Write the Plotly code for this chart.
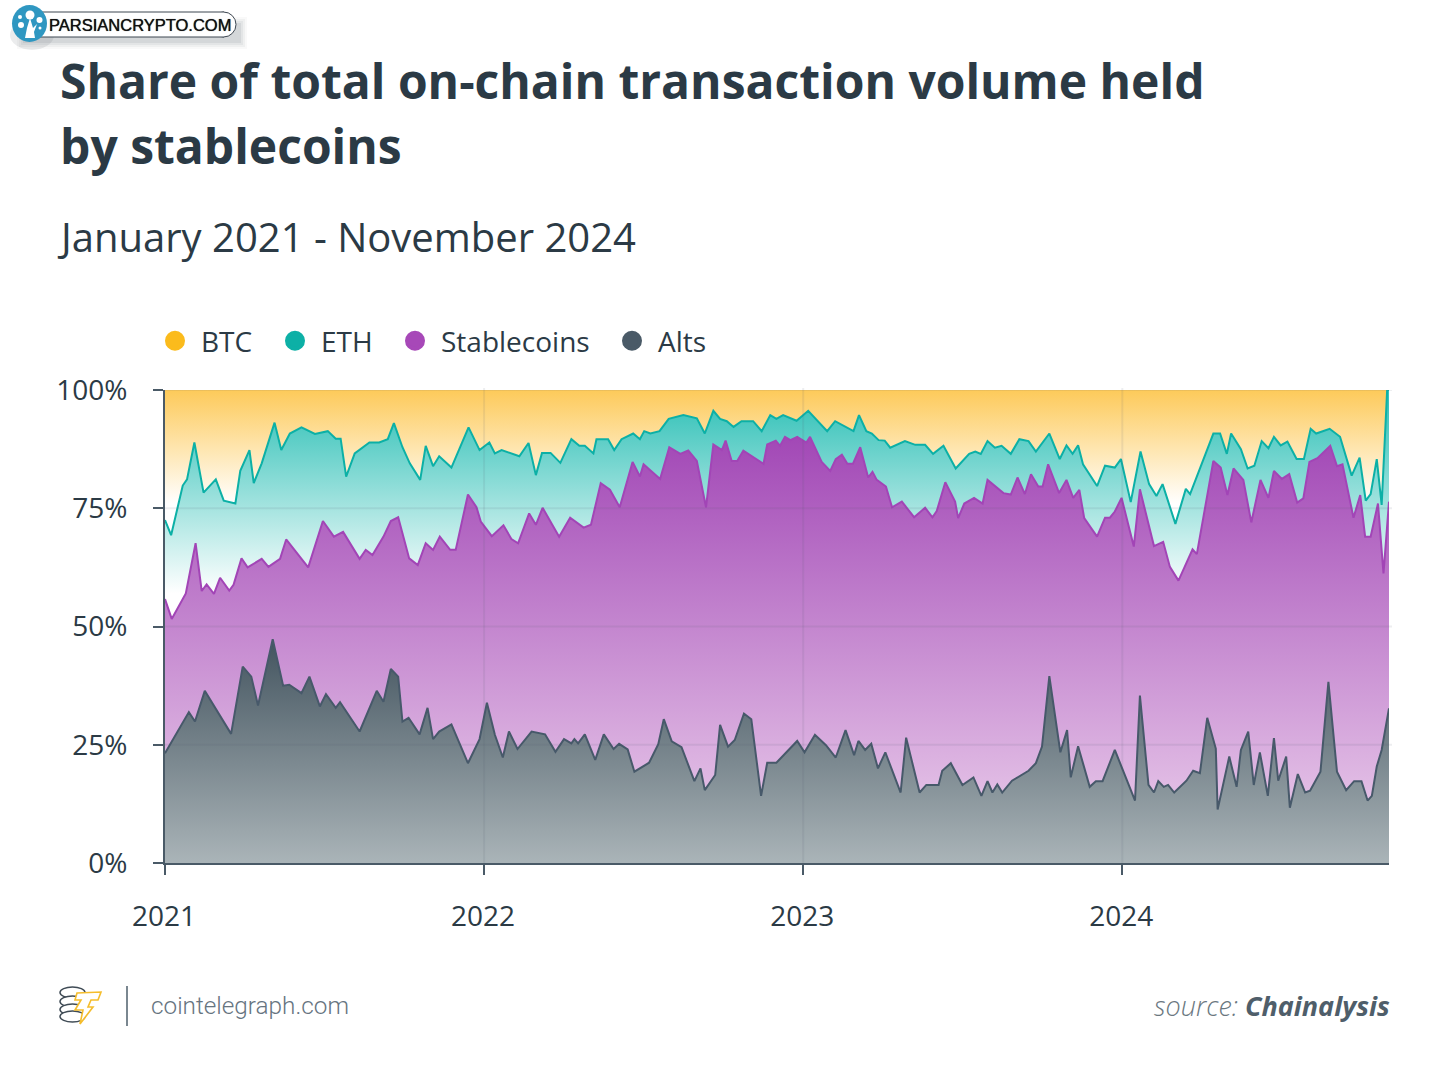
import pandas as pd
import plotly.graph_objects as go

W, H = 1450, 1086
START = pd.Timestamp("2021-01-01")
END = "2024-11-01"

year_ticks = ["2021-01-01", "2022-01-01", "2023-01-01", "2024-01-01"]
share_ticks = [0, 25, 50, 75, 100]
share_labels = ["0%", "25%", "50%", "75%", "100%"]

btc_weeks = [0, 200]
btc_values = [100, 100]

eth_weeks = [0, 1, 2.9, 3.6, 4.8, 6.3, 8.3, 9.6, 11.5, 12.3, 13.8, 14.5, 15.8, 17.9, 19.0, 20.4, 22.3, 24.5, 26.6, 27.9,
             28.7, 29.6, 31.0, 33.4, 35.0, 36.4, 37.4, 38.8, 40.0, 41.7, 42.6, 43.8, 44.8, 46.8, 49.6, 51.4, 53.0, 53.9,
             55.0, 57.9, 59.4, 60.6, 61.6, 63.0, 64.6, 66.4, 67.7, 68.6, 70.0, 70.5, 72.4, 73.4, 74.6, 76.5, 77.6, 78.3,
             79.3, 80.8, 82.3, 84.7, 86.9, 88.2, 89.6, 90.7, 91.8, 92.9, 94.2, 96.1, 97.5, 98.9, 99.9, 101.0, 103.2, 105.1,
             108.2, 109.5, 112.5, 113.4, 114.6, 115.5, 116.6, 117.6, 118.5, 120.9, 122.6, 124.2, 125.5, 127.2, 129.2,
             131.4, 132.4, 133.3, 134.4, 135.6, 136.7, 138.2, 139.6, 141.1, 142.3, 144.5, 146.2, 147.3, 148.3, 149.2,
             150.0, 152.3, 153.6, 155.2, 156.2, 157.8, 159.4, 160.8, 162.0, 163.0, 165.1, 166.8, 167.5, 171.3, 172.4,
             173.5, 174.2, 175.8, 176.9, 178.0, 179.2, 180.3, 181.2, 182.3, 183.4, 184.9, 186.1, 187.2, 188.1, 190.3,
             192.0, 193.9, 195.2, 196.2, 197.0, 198.0, 198.8, 199.7, 200]
eth_values = [72.5, 69.3, 79.8, 81.1, 88.9, 78.3, 81.1, 76.6, 76.0, 82.9, 87.3, 80.3, 84.5, 93.1, 87.3, 90.8, 92.1, 90.7, 91.3, 89.7,
              89.7, 81.7, 86.6, 88.9, 88.9, 89.6, 93.0, 87.9, 84.5, 81.0, 88.2, 83.9, 86.0, 83.6, 92.1, 87.3, 88.9, 86.6,
              87.3, 86.0, 88.8, 82.0, 86.7, 86.7, 84.6, 89.6, 88.2, 88.2, 86.6, 89.6, 89.6, 87.3, 89.6, 90.8, 89.6, 91.3,
              90.8, 91.3, 93.9, 94.7, 94.0, 90.8, 95.6, 93.9, 93.4, 92.2, 93.4, 93.4, 91.3, 94.7, 93.9, 94.7, 93.5, 95.6,
              91.3, 93.4, 91.3, 94.7, 91.3, 90.8, 89.4, 89.3, 87.8, 89.2, 88.4, 88.4, 86.5, 88.2, 83.4,
              86.5, 87.0, 86.5, 89.2, 87.8, 88.2, 86.5, 89.6, 89.2, 87.0, 90.8, 85.4, 88.3, 86.5, 88.3,
              84.3, 79.7, 84.0, 83.6, 85.4, 76.3, 87.0, 80.1, 77.6, 80.1, 71.7, 79.1, 78.0, 90.8, 90.8,
              86.5, 90.8, 87.5, 83.4, 84.0, 89.2, 87.7, 90.1, 88.3, 89.1, 85.4, 85.4, 91.8, 90.8, 91.8,
              90.1, 81.9, 85.7, 76.6, 78.0, 85.4, 75.7, 100, 100]

stable_weeks = [0, 1.1, 3.4, 5.0, 6.0, 6.8, 8.0, 9.0, 10.5, 11.2, 12.5, 13.5, 15.8, 16.9, 18.8, 19.8, 23.4, 25.8, 27.6, 29.1,
                31.8, 32.8, 33.9, 35.7, 36.9, 38.1, 39.9, 41.3, 42.6, 43.8, 44.9, 46.6, 47.5, 49.5, 50.9, 51.6, 53.4, 55.3,
                56.6, 57.7, 59.5, 60.6, 61.7, 64.4, 66.2, 68.4, 69.6, 71.2, 72.7, 74.3, 76.4, 77.6, 78.2, 80.9, 82.4, 84.2,
                85.5, 86.9, 88.4, 89.6, 91.0, 91.6, 92.6, 93.5, 94.5, 97.8, 98.4, 99.8, 100.5, 101.3, 102.2, 103.3, 104.8,
                105.4, 107.3, 108.7, 109.6, 110.6, 111.5, 112.4, 113.6, 114.9, 115.6, 116.3, 117.8, 118.8, 120.4, 122.4,
                124.2, 125.4, 126.1, 127.5, 129.1, 129.6, 130.6, 132.2, 133.6, 134.4, 137.0, 138.2, 139.3, 140.5, 141.5,
                142.7, 143.4, 144.3, 146.1, 147.3, 148.4, 149.4, 150.2, 152.3, 153.6, 154.4, 155.2, 156.3, 158.3, 159.3,
                161.6, 163.1, 164.2, 165.6, 167.9, 168.6, 171.3, 172.5, 173.6, 174.6, 176.2, 177.5, 179.0, 180.3, 181.2,
                182.5, 183.7, 185.0, 186.0, 187.0, 188.3, 190.4, 191.5, 192.4, 194.2, 195.3, 196.1, 197.0, 198.2, 199.1, 200]
stable_values = [55.8, 51.6, 57.0, 67.6, 57.5, 58.9, 56.9, 60.3, 57.6, 58.8, 64.4, 62.5, 64.3, 62.6, 64.3, 68.4, 62.5, 72.3, 69.0, 70.0,
                 64.3, 66.2, 65.1, 69.0, 72.3, 73.1, 64.4, 63.0, 67.6, 66.2, 69.0, 66.2, 66.2, 77.9, 75.2, 72.2, 69.1, 71.4,
                 68.5, 67.6, 73.9, 71.5, 75.1, 69.0, 73.0, 70.9, 71.5, 80.3, 78.9, 75.2, 84.8, 81.7, 84.3, 81.2, 87.9, 86.5,
                 87.2, 85.0, 75.2, 88.5, 87.3, 89.3, 85.0, 85.0, 87.2, 84.4, 88.5, 89.3, 88.2, 90.1, 89.4, 90.1, 88.9,
                 90.1, 84.8, 82.9, 85.4, 86.3, 84.4, 84.4, 87.9, 81.5, 82.7, 81.0, 79.6, 75.2, 76.4, 73.1,
                 75.1, 73.1, 74.4, 80.5, 76.4, 72.9, 76.0, 77.2, 76.0, 81.0, 78.2, 77.9, 81.5, 78.0, 82.2,
                 79.6, 79.6, 84.3, 78.2, 81.0, 77.2, 78.9, 72.9, 69.0, 73.0, 73.0, 74.3, 77.2, 66.9, 79.0,
                 67.0, 67.9, 62.6, 59.7, 66.3, 65.3, 85.0, 83.6, 77.8, 83.4, 81.0, 72.0, 81.0, 77.2, 82.9,
                 81.2, 82.2, 76.2, 77.1, 84.8, 85.6, 88.2, 83.9, 84.3, 73.0, 77.8, 69.0, 69.0, 76.0, 61.2, 76.4]

alts_weeks = [0, 3.9, 4.9, 6.5, 10.8, 12.7, 14.1, 15.2, 17.6, 19.3, 20.3, 22.3, 23.6, 25.3, 26.3, 27.9, 28.6, 31.8, 34.6, 35.7,
              36.9, 38.1, 38.8, 39.8, 41.6, 42.9, 43.8, 44.8, 46.8, 49.5, 51.4, 52.6, 53.9, 55.2, 56.2, 57.6, 59.9, 62.1,
              63.8, 65.2, 66.4, 66.9, 67.5, 68.6, 70.3, 71.7, 73.3, 74.2, 75.6, 76.7, 79.1, 80.6, 81.5, 82.8, 84.4, 86.5,
              87.5, 88.2, 89.9, 90.7, 92.0, 93.1, 94.6, 95.8, 97.4, 98.4, 99.9, 103.3, 104.5, 106.2, 108.0, 109.6, 111.2,
              112.6, 113.3, 114.4, 115.4, 116.5, 117.7, 120.2, 121.1, 123.3, 124.4, 126.4, 127.0, 128.4, 130.3, 132.1,
              133.4, 134.4, 135.2, 136.0, 136.8, 138.4, 141.1, 142.3, 143.3, 144.5, 146.3, 147.4, 148.0, 149.2, 151.1,
              152.1, 153.2, 155.2, 158.5, 159.3, 160.7, 161.6, 162.3, 163.2, 163.9, 164.9, 166.9, 168.0, 169.1, 170.3,
              171.7, 172.0, 173.9, 175.1, 175.8, 177.0, 177.9, 178.9, 180.2, 181.2, 181.9, 183.2, 183.8, 185.1, 186.3,
              187.1, 188.8, 190.1, 191.5, 193.0, 194.3, 195.5, 196.5, 197.2, 198.0, 198.8, 200]
alts_values = [23.2, 31.9, 29.9, 36.4, 27.3, 41.5, 39.4, 33.3, 47.3, 37.5, 37.7, 35.9, 39.4, 33.1, 35.7, 32.8, 34.0, 27.8, 36.4, 34.1,
               41.0, 39.4, 29.9, 30.7, 27.2, 32.8, 26.2, 27.8, 29.3, 21.1, 26.2, 33.9, 27.1, 22.3, 27.8, 24.1, 27.8, 27.2,
               23.5, 26.2, 25.3, 26.2, 25.3, 27.2, 21.8, 27.2, 24.1, 25.2, 24.0, 19.3, 21.2, 25.1, 30.4, 25.7, 24.5, 17.3,
               20.0, 15.4, 18.6, 29.2, 24.6, 26.0, 31.6, 30.4, 14.2, 21.2, 21.2, 25.8, 23.4, 27.1, 24.9, 22.3, 28.1,
               22.8, 25.8, 23.9, 25.2, 20.0, 23.4, 14.9, 26.5, 14.9, 16.5, 16.5, 19.5, 21.1, 16.5, 18.1,
               14.2, 17.3, 14.9, 16.6, 14.9, 17.4, 19.5, 21.1, 24.6, 39.5, 23.4, 28.1, 18.1, 24.7, 16.1,
               17.3, 17.3, 23.9, 13.2, 35.4, 16.5, 14.9, 17.3, 16.1, 16.5, 14.9, 17.4, 19.5, 19.0, 30.7,
               24.2, 11.3, 22.5, 16.1, 23.9, 27.8, 16.5, 23.4, 14.2, 26.4, 17.4, 22.5, 11.7, 18.8, 14.9,
               15.3, 19.3, 38.3, 19.3, 15.4, 17.3, 17.3, 13.2, 14.2, 20.4, 23.9, 32.7]

INK = "#2b3a45"
GREY = "#4a5a67"
FONT = "Open Sans"


def dates(weeks):
    return [START + pd.Timedelta(days=7 * w) for w in weeks]


def px(x):
    return x / W


def py(y):
    return 1 - y / H


def area(name, weeks, values, line, width, low, high, c_low, c_high):
    return go.Scatter(
        x=dates(weeks), y=values, name=name, mode="lines", showlegend=False,
        line=dict(color=line, width=width),
        fill="tozeroy",
        fillgradient=dict(type="vertical", start=low, stop=high,
                          colorscale=[[0, c_low], [1, c_high]]),
        hoverinfo="skip",
    )


fig = go.Figure()
fig.add_trace(area("BTC", btc_weeks, btc_values, "#fbbb1c", 0, 76, 100, "#ffffff", "#fdca5a"))
fig.add_trace(area("ETH", eth_weeks, eth_values, "#0cb0a6", 2, 57, 97, "#ffffff", "#38c3ba"))
fig.add_trace(area("Stablecoins", stable_weeks, stable_values, "#a245b6", 2, 0, 90, "#eed4ee", "#a248b6"))
fig.add_trace(area("Alts", alts_weeks, alts_values, "#47596a", 2, 0, 48, "#aab4b8", "#42535e"))

# legend
legend_items = [("BTC", "#fbbb1c", 149), ("ETH", "#0db0a6", 269), ("Stablecoins", "#a748b8", 389), ("Alts", "#4a5a67", 606)]
legend_layout = {}
for i, (name, color, left) in enumerate(legend_items, start=1):
    key = "legend" if i == 1 else f"legend{i}"
    fig.add_trace(go.Scatter(x=[None], y=[None], name=name, mode="markers", legend=key, showlegend=True,
                             marker=dict(color=color, size=16, line=dict(color=color, width=4))))
    legend_layout[key] = dict(x=px(left), y=py(341), xref="container", yref="container", xanchor="left", yanchor="middle",
                              orientation="h", bgcolor="rgba(0,0,0,0)", font=dict(family=FONT, size=28, color=INK),
                              itemwidth=42, itemclick=False, itemdoubleclick=False)

shapes = []
# grid drawn over the fills
for v in share_ticks[1:]:
    shapes.append(dict(type="line", xref="paper", yref="y", x0=px(165), x1=px(1392), y0=v, y1=v, layer="above",
                       line=dict(color="rgba(74,90,103,0.10)", width=2)))
for d in year_ticks[1:]:
    shapes.append(dict(type="line", xref="x", yref="paper", x0=d, x1=d, y0=py(863), y1=py(388), layer="above",
                       line=dict(color="rgba(74,90,103,0.10)", width=2)))


def poly(points, **kw):
    path = "M " + " L ".join(f"{px(x):.5f},{py(y):.5f}" for x, y in points) + " Z"
    shapes.append(dict(type="path", xref="paper", yref="paper", path=path, layer="above", **kw))


def rect(x0, y0, x1, y1, **kw):
    shapes.append(dict(type="rect", xref="paper", yref="paper", x0=px(x0), x1=px(x1), y0=py(y1), y1=py(y0),
                       layer="above", **kw))


def oval(x0, y0, x1, y1, **kw):
    shapes.append(dict(type="circle", xref="paper", yref="paper", x0=px(x0), x1=px(x1), y0=py(y1), y1=py(y0),
                       layer="above", **kw))


no_line = dict(width=0)
# watermark pill
for g, a in ((7, 0.04), (5, 0.06), (3, 0.08), (1, 0.10)):
    rect(24 - g, 24 - g, 240 + g, 42 + g, fillcolor=f"rgba(90,100,110,{a})", line=no_line)
oval(10, 20, 54, 50, fillcolor="rgba(90,100,110,0.12)", line=no_line)
pill_edge = dict(color="#3d4650", width=1)
oval(211, 12, 236, 37, fillcolor="#ffffff", line=pill_edge)
rect(40, 12, 224, 37, fillcolor="#ffffff", line=no_line)
for edge in (12, 37):
    shapes.append(dict(type="line", xref="paper", yref="paper", x0=px(40), x1=px(224), y0=py(edge), y1=py(edge),
                       layer="above", line=pill_edge))
oval(12, 5, 47, 42, fillcolor="#2f97c1", line=no_line)
for cx, cy, r in ((30, 15, 4.5), (39.5, 20, 3), (21, 25, 3), (20, 17, 2), (40, 28, 1.5)):
    oval(cx - r, cy - r, cx + r, cy + r, fillcolor="#ffffff", line=no_line)
poly([(25, 38), (27, 28), (30, 18), (33, 28), (37, 24), (34, 32), (35, 38)], fillcolor="#ffffff", line=no_line)

# cointelegraph mark
for top in (987, 996, 1004, 1011):
    oval(60, top, 85, top + 11, fillcolor="#ffffff", line=dict(color="#3f4b55", width=1.5))
poly([(77, 993), (101, 992), (98, 1000), (91, 1000), (88, 1007), (93, 1007), (80, 1024), (83, 1010), (75, 1010), (81, 1000), (75, 1000)],
     fillcolor="#ffffff", line=dict(color="#f5bd2c", width=1.6))
shapes.append(dict(type="line", xref="paper", yref="paper", x0=px(127), x1=px(127), y0=py(986), y1=py(1026), layer="above",
                   line=dict(color="#7a8790", width=2)))

annotations = [
    dict(text="<b>by stablecoins</b>", x=px(58), y=py(145.5), xanchor="left", yanchor="middle",
         font=dict(family=FONT, size=48, color=INK)),
    dict(text="January 2021 - November 2024", x=px(55), y=py(236.5), xanchor="left", yanchor="middle",
         font=dict(family=FONT, size=40, color=INK)),
    dict(text="PARSIANCRYPTO.COM", x=px(47), y=py(25), xanchor="left", yanchor="middle",
         font=dict(family="Liberation Sans", size=16.5, color="#111111", shadow="0 0 0.7px #111111")),
    dict(text="cointelegraph.com", x=px(149), y=py(1005), xanchor="left", yanchor="middle",
         font=dict(family="Roboto", size=24.3, weight=300, color="#66747f")),
    dict(text='<i><span style="font-weight:300;color:#6a7780">source: </span></i><b><i>Chainalysis</i></b>',
         x=px(1392), y=py(1005), xanchor="right", yanchor="middle",
         font=dict(family=FONT, size=27, color="#4f5e6a")),
]
for a in annotations:
    a.update(xref="paper", yref="paper", showarrow=False)

fig.update_layout(
    width=W, height=H, autosize=False,
    margin=dict(l=0, r=0, t=0, b=0, pad=0, autoexpand=False),
    paper_bgcolor="#ffffff", plot_bgcolor="#ffffff",
    title=dict(text="<b>Share of total on-chain transaction volume held</b>",
               x=px(60), y=py(82), xanchor="left", yanchor="middle", xref="paper", yref="paper",
               font=dict(family=FONT, size=48, color=INK)),
    xaxis=dict(type="date", range=[START, END], domain=[px(165), px(1389)], tickvals=year_ticks, tickformat="%Y",
               ticks="outside", ticklen=10, tickwidth=1.5, tickcolor=GREY, showgrid=False, zeroline=False,
               showline=True, linecolor=GREY, linewidth=2, ticklabelstandoff=17, ticklabelshift=-1,
               tickfont=dict(family=FONT, size=28, color=INK)),
    yaxis=dict(range=[0, 100], domain=[py(863), py(390)], tickvals=share_ticks, ticktext=share_labels,
               ticks="outside", ticklen=10, tickwidth=1.5, tickcolor=GREY, showgrid=False, zeroline=False,
               showline=True, linecolor=GREY, linewidth=2, ticklabelstandoff=20,
               tickfont=dict(family=FONT, size=28, color=INK)),
    shapes=shapes, annotations=annotations,
    hovermode=False,
    **legend_layout,
)

fig.write_html("out.html", config=dict(displayModeBar=False),
               post_script="document.body.style.margin='0';document.documentElement.style.overflow='hidden';")
